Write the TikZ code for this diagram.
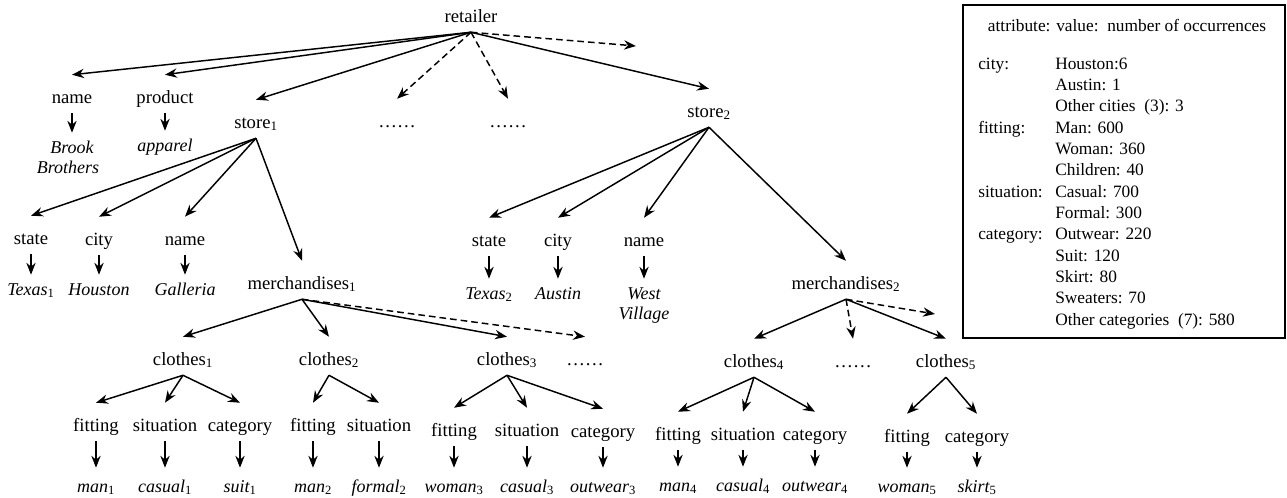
\documentclass[tikz,border=0pt]{standalone}
\usepackage{fontspec}
\setmainfont{Liberation Serif}
\usetikzlibrary{arrows.meta}
\newcommand{\idx}[1]{\textsubscript{\upshape #1}}

\begin{document}
\begin{tikzpicture}[x=0.75pt,y=0.75pt,yscale=-1,xscale=1,
  lbl/.style={anchor=base,inner sep=0pt,font=\fontsize{14}{16}\selectfont,text height=21pt,text depth=7.5pt},
  valtop/.style={lbl,font=\fontsize{13.5}{16}\selectfont\itshape,text height=15pt,text depth=0pt},
  valbot/.style={valtop,text height=18pt},
  arr/.style={line width=1.1pt,-{Stealth[length=9pt,width=7pt,inset=3pt]}},
  darr/.style={arr,dash pattern=on 5pt off 3pt},
  legendtxt/.style={inner sep=0pt,font=\fontsize{13}{16}\selectfont}]
%set diagram size: 1287 x 497
\useasboundingbox (0,0) rectangle (1287,497);

% Text Node: top levels
\node[lbl] (retailer) at (471,22) {retailer};
\node[lbl] (name0) at (72,103) {name};
\node[lbl] (product) at (165,103) {product};
\node[lbl] (store1) at (256,128) {store\idx{1}};
\node[lbl] (dots1) at (397,127) {\ldots\ldots};
\node[lbl] (dots2) at (508,127) {\ldots\ldots};
\node[lbl] (store2) at (709,117) {store\idx{2}};
\coordinate (more1) at (636,46);
\node[valtop] (brook) at (72,153) {Brook};
\node[valtop] (brothers) at (68,173) {Brothers};
\node[valtop] (apparel) at (165,151) {apparel};

% Text Node: store level
\node[lbl] (state1) at (31,244) {state};
\node[lbl] (city1) at (99,245) {city};
\node[lbl] (name1) at (185,245) {name};
\node[lbl] (merch1) at (302,289) {merchandises\idx{1}};
\node[valtop] (texas1) at (31,295) {Texas\idx{1}};
\node[valtop] (houston) at (99,295) {Houston};
\node[valtop] (galleria) at (185,295) {Galleria};
\node[lbl] (state2) at (489,246) {state};
\node[lbl] (city2) at (558,246) {city};
\node[lbl] (name2) at (644,246) {name};
\node[lbl] (merch2) at (846,289) {merchandises\idx{2}};
\node[valtop] (texas2) at (489,299) {Texas\idx{2}};
\node[valtop] (austin) at (558,299) {Austin};
\node[valtop] (west) at (644,299) {West};
\node[valtop] (village) at (644,319) {Village};

% Text Node: clothes level
\node[lbl] (clothes1) at (183,365) {clothes\idx{1}};
\node[lbl] (clothes2) at (329,365) {clothes\idx{2}};
\node[lbl] (clothes3) at (507,365) {clothes\idx{3}};
\node[lbl] (dots3) at (585,365) {\ldots\ldots};
\node[lbl] (clothes4) at (754,367) {clothes\idx{4}};
\node[lbl] (dots4) at (853,367) {\ldots\ldots};
\node[lbl] (clothes5) at (946,367) {clothes\idx{5}};
\coordinate (more2) at (935,314);

% Text Node: attributes
\node[lbl] (fit1) at (96,431) {fitting};
\node[lbl] (sit1) at (165,431) {situation};
\node[lbl] (cat1) at (240,431) {category};
\node[lbl] (fit2) at (313,431) {fitting};
\node[lbl] (sit2) at (379,431) {situation};
\node[lbl] (fit3) at (454,436) {fitting};
\node[lbl] (sit3) at (527,436) {situation};
\node[lbl] (cat3) at (603,437) {category};
\node[lbl] (fit4) at (678,440) {fitting};
\node[lbl] (sit4) at (743,440) {situation};
\node[lbl] (cat4) at (815,440) {category};
\node[lbl] (fit5) at (907,442) {fitting};
\node[lbl] (cat5) at (977,442) {category};

% Text Node: values
\node[valbot] (man1) at (96,492) {man\idx{1}};
\node[valbot] (casual1) at (165,492) {casual\idx{1}};
\node[valbot] (suit1) at (240,492) {suit\idx{1}};
\node[valbot] (man2) at (313,492) {man\idx{2}};
\node[valbot] (formal2) at (379,492) {formal\idx{2}};
\node[valbot] (woman3) at (454,492) {woman\idx{3}};
\node[valbot] (casual3) at (527,492) {casual\idx{3}};
\node[valbot] (outwear3) at (603,492) {outwear\idx{3}};
\node[valbot] (man4) at (678,491) {man\idx{4}};
\node[valbot] (casual4) at (743,491) {casual\idx{4}};
\node[valbot] (outwear4) at (815,491) {outwear\idx{4}};
\node[valbot] (woman5) at (907,492) {woman\idx{5}};
\node[valbot] (skirt5) at (977,492) {skirt\idx{5}};

%Straight Lines: retailer
\draw[arr] (retailer.south) -- (name0.north);
\draw[arr] (retailer.south) -- (product.north);
\draw[arr] (retailer.south) -- (store1.north);
\draw[darr] (retailer.south) -- (dots1.north);
\draw[darr] (retailer.south) -- (dots2.north);
\draw[darr] (retailer.south) -- (more1);
\draw[arr] (retailer.south) -- (store2.north);
\draw[arr] (name0.south) -- (brook.north);
\draw[arr] (product.south) -- (apparel.north);

%Straight Lines: stores
\draw[arr] (store1.south) -- (state1.north);
\draw[arr] (store1.south) -- (city1.north);
\draw[arr] (store1.south) -- (name1.north);
\draw[arr] (store1.south) -- (merch1.north);
\draw[arr] (state1.south) -- (texas1.north);
\draw[arr] (city1.south) -- (houston.north);
\draw[arr] (name1.south) -- (galleria.north);
\draw[arr] (store2.south) -- (state2.north);
\draw[arr] (store2.south) -- (city2.north);
\draw[arr] (store2.south) -- (name2.north);
\draw[arr] (store2.south) -- (merch2.north);
\draw[arr] (state2.south) -- (texas2.north);
\draw[arr] (city2.south) -- (austin.north);
\draw[arr] (name2.south) -- (west.north);

%Straight Lines: merchandises
\draw[arr] (merch1.south) -- (clothes1.north);
\draw[arr] (merch1.south) -- (clothes2.north);
\draw[arr] (merch1.south) -- (clothes3.north);
\draw[darr] (merch1.south) -- (dots3.north);
\draw[arr] (merch2.south) -- (clothes4.north);
\draw[darr] (merch2.south) -- (dots4.north);
\draw[darr] (merch2.south) -- (more2);
\draw[arr] (merch2.south) -- (clothes5.north);

%Straight Lines: clothes
\draw[arr] (clothes1.south) -- (fit1.north);
\draw[arr] (clothes1.south) -- (sit1.north);
\draw[arr] (clothes1.south) -- (cat1.north);
\draw[arr] (clothes2.south) -- (fit2.north);
\draw[arr] (clothes2.south) -- (sit2.north);
\draw[arr] (clothes3.south) -- (fit3.north);
\draw[arr] (clothes3.south) -- (sit3.north);
\draw[arr] (clothes3.south) -- (cat3.north);
\draw[arr] (clothes4.south) -- (fit4.north);
\draw[arr] (clothes4.south) -- (sit4.north);
\draw[arr] (clothes4.south) -- (cat4.north);
\draw[arr] (clothes5.south) -- (fit5.north);
\draw[arr] (clothes5.south) -- (cat5.north);

%Straight Lines: values
\draw[arr] (fit1.south) -- (man1.north);
\draw[arr] (sit1.south) -- (casual1.north);
\draw[arr] (cat1.south) -- (suit1.north);
\draw[arr] (fit2.south) -- (man2.north);
\draw[arr] (sit2.south) -- (formal2.north);
\draw[arr] (fit3.south) -- (woman3.north);
\draw[arr] (sit3.south) -- (casual3.north);
\draw[arr] (cat3.south) -- (outwear3.north);
\draw[arr] (fit4.south) -- (man4.north);
\draw[arr] (sit4.south) -- (casual4.north);
\draw[arr] (cat4.south) -- (outwear4.north);
\draw[arr] (fit5.south) -- (woman5.north);
\draw[arr] (cat5.south) -- (skirt5.north);

%Shape: Rectangle (legend)
\draw[line width=1pt] (963,5) rectangle (1285,338);
\node[legendtxt,anchor=base] (legtitle) at (1127,31) {attribute: value:\ \ number of occurrences};
\node[legendtxt,anchor=base west] (legrows) at (978,69) {\begin{tabular}[t]{@{}p{57.75pt}@{}l@{}}
city: & Houston:6\\
 & Austin: 1\\
 & Other cities\ \ (3): 3\\
fitting: & Man: 600\\
 & Woman: 360\\
 & Children: 40\\
situation: & Casual: 700\\
 & Formal: 300\\
category: & Outwear: 220\\
 & Suit: 120\\
 & Skirt: 80\\
 & Sweaters: 70\\
 & Other categories\ \ (7): 580
\end{tabular}};

\end{tikzpicture}
\end{document}
